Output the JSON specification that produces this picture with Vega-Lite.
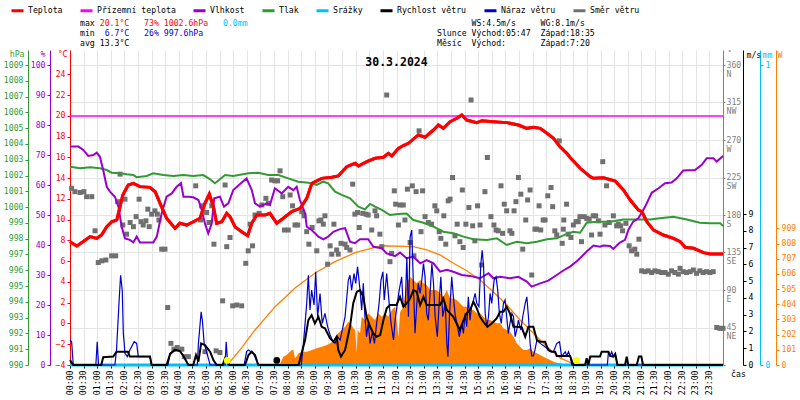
{
  "$schema": "https://vega.github.io/schema/vega-lite/v6.json",
  "width": 653,
  "height": 315,
  "autosize": "none",
  "padding": {"left": 70, "top": 50, "right": 77, "bottom": 35},
  "background": "white",
  "config": {
    "view": {"stroke": null},
    "font": "DejaVu Sans Mono",
    "axis": {
      "labelFont": "DejaVu Sans Mono", "labelFontSize": 8.2, "titleFont": "DejaVu Sans Mono",
      "titleFontSize": 8.2, "titleFontWeight": "normal", "tickSize": 3, "labelPadding": 2,
      "grid": false, "titleAngle": 0, "titleBaseline": "middle", "labelOverlap": false, "labelFlush": false
    },
    "legend": {
      "orient": "none", "legendX": -60, "legendY": -47, "direction": "horizontal",
      "symbolType": "stroke", "symbolSize": 144, "symbolStrokeWidth": 3,
      "labelFont": "DejaVu Sans Mono", "labelFontSize": 8.2, "labelOffset": 3,
      "columnPadding": 11, "padding": 0
    }
  },
  "datasets": {
    "temp": [
      {"h":0,"v":7.88},{"h":0.25,"v":7.47},{"h":0.49,"v":7.9},{"h":0.74,"v":8.37},{"h":0.98,"v":8.2},{"h":1.16,"v":8.53},
      {"h":1.35,"v":9.33},{"h":1.53,"v":9.81},{"h":1.72,"v":9.98},{"h":1.84,"v":11.26},{"h":1.94,"v":12.39},{"h":2.14,"v":13.35},
      {"h":2.33,"v":13.51},{"h":2.57,"v":13.19},{"h":2.94,"v":13.12},{"h":3.13,"v":12.7},{"h":3.31,"v":11.58},{"h":3.55,"v":10.14},
      {"h":3.86,"v":9.17},{"h":4.04,"v":9.66},{"h":4.29,"v":9.49},{"h":4.53,"v":9.81},{"h":4.78,"v":10.14},{"h":4.96,"v":11.58},
      {"h":5.12,"v":12.48},{"h":5.27,"v":11.26},{"h":5.39,"v":9.66},{"h":5.58,"v":9.81},{"h":5.76,"v":10.62},{"h":5.88,"v":10.3},
      {"h":6.07,"v":9.3},{"h":6.31,"v":8.85},{"h":6.53,"v":8.46},{"h":6.68,"v":9.66},{"h":6.86,"v":10.46},{"h":7.17,"v":10.46},
      {"h":7.35,"v":10.62},{"h":7.6,"v":9.66},{"h":7.84,"v":10.14},{"h":8.15,"v":10.78},{"h":8.46,"v":11.1},{"h":8.7,"v":12.06},
      {"h":8.89,"v":13.51},{"h":9.25,"v":13.99},{"h":9.62,"v":14.09},{"h":9.86,"v":14.22},{"h":10.17,"v":15.11},{"h":10.48,"v":15.44},
      {"h":10.6,"v":15.18},{"h":10.91,"v":15.6},{"h":11.21,"v":15.92},{"h":11.52,"v":16.02},{"h":11.7,"v":16.4},{"h":11.83,"v":16.14},
      {"h":12.07,"v":16.88},{"h":12.25,"v":17.15},{"h":12.44,"v":17.37},{"h":12.8,"v":18.17},{"h":13.05,"v":17.95},{"h":13.36,"v":18.65},
      {"h":13.54,"v":19.13},{"h":13.72,"v":18.81},{"h":13.97,"v":19.45},{"h":14.22,"v":19.78},{"h":14.4,"v":20.1},{"h":14.58,"v":19.61},
      {"h":14.95,"v":19.36},{"h":15.14,"v":19.55},{"h":15.56,"v":19.45},{"h":16.05,"v":19.36},{"h":16.48,"v":19.13},{"h":16.79,"v":18.81},
      {"h":17.03,"v":18.91},{"h":17.28,"v":18.81},{"h":17.53,"v":18.33},{"h":17.77,"v":17.85},{"h":18.01,"v":17.04},{"h":18.26,"v":16.4},
      {"h":18.38,"v":16.0},{"h":18.75,"v":14.96},{"h":19.12,"v":14.15},{"h":19.24,"v":13.99},{"h":19.61,"v":14.05},{"h":20.04,"v":13.73},
      {"h":20.34,"v":12.87},{"h":20.59,"v":11.9},{"h":20.89,"v":10.94},{"h":21.02,"v":10.78},{"h":21.2,"v":9.81},{"h":21.45,"v":9.0},
      {"h":21.81,"v":8.53},{"h":22.18,"v":8.2},{"h":22.43,"v":7.88},{"h":22.61,"v":7.34},{"h":22.92,"v":7.25},{"h":23.28,"v":6.83},
      {"h":23.53,"v":6.7},{"h":24,"v":6.7}
    ],
    "ground": [{"h":0,"v":20},{"h":24,"v":20}],
    "rain": [{"h":0,"v":0},{"h":24,"v":0}],
    "hum": [
      {"h":0,"v":72.8},{"h":0.31,"v":72.8},{"h":0.49,"v":71.7},{"h":0.67,"v":69.7},{"h":0.86,"v":70},{"h":0.98,"v":70.8},
      {"h":1.1,"v":69.4},{"h":1.22,"v":65},{"h":1.35,"v":59.4},{"h":1.47,"v":57.8},{"h":1.65,"v":56.1},{"h":1.78,"v":52.8},
      {"h":1.9,"v":46.1},{"h":2.02,"v":42.2},{"h":2.2,"v":41.7},{"h":2.33,"v":40.9},{"h":2.45,"v":42.8},{"h":2.57,"v":40.8},
      {"h":3.06,"v":40.8},{"h":3.19,"v":42.8},{"h":3.37,"v":50.6},{"h":3.55,"v":56.1},{"h":3.74,"v":57.2},{"h":3.92,"v":59.4},
      {"h":4.08,"v":60.6},{"h":4.17,"v":56.1},{"h":4.35,"v":56.1},{"h":4.53,"v":55.9},{"h":4.72,"v":55},{"h":4.84,"v":51.7},
      {"h":4.96,"v":47.2},{"h":5.08,"v":43.9},{"h":5.21,"v":47.2},{"h":5.3,"v":55.6},{"h":5.51,"v":56.1},{"h":5.66,"v":52.8},
      {"h":5.82,"v":53.9},{"h":6.0,"v":58.3},{"h":6.25,"v":60.3},{"h":6.49,"v":62.2},{"h":6.68,"v":58.3},{"h":6.8,"v":53.9},
      {"h":6.98,"v":52.8},{"h":7.23,"v":53.9},{"h":7.35,"v":53.3},{"h":7.53,"v":58.9},{"h":7.78,"v":57.2},{"h":8.02,"v":59.4},
      {"h":8.21,"v":58.3},{"h":8.33,"v":59.4},{"h":8.45,"v":55},{"h":8.64,"v":50.6},{"h":8.7,"v":46.1},{"h":8.88,"v":45},
      {"h":9.13,"v":42.8},{"h":9.31,"v":41.9},{"h":9.49,"v":42.8},{"h":9.68,"v":44.4},{"h":9.92,"v":45.3},{"h":10.11,"v":45.6},
      {"h":10.29,"v":41.1},{"h":10.47,"v":40.6},{"h":10.66,"v":41.9},{"h":10.96,"v":41.9},{"h":11.15,"v":39.4},{"h":11.46,"v":38.9},
      {"h":11.64,"v":37.2},{"h":11.95,"v":36.3},{"h":12.13,"v":37.5},{"h":12.37,"v":35.6},{"h":12.62,"v":36.1},{"h":12.87,"v":33.9},
      {"h":13.11,"v":35},{"h":13.36,"v":33.9},{"h":13.6,"v":31.1},{"h":13.85,"v":31.7},{"h":14.09,"v":31.1},{"h":14.4,"v":30},
      {"h":14.7,"v":29.7},{"h":15.07,"v":28.9},{"h":15.38,"v":30.6},{"h":15.56,"v":28.9},{"h":15.81,"v":29.4},{"h":16.17,"v":28.9},
      {"h":16.48,"v":29.4},{"h":16.79,"v":27.8},{"h":16.97,"v":26.1},{"h":17.28,"v":27.2},{"h":17.58,"v":28.1},{"h":17.89,"v":30},
      {"h":18.13,"v":31.5},{"h":18.38,"v":32.8},{"h":18.68,"v":35},{"h":18.99,"v":37.8},{"h":19.24,"v":39.8},{"h":19.48,"v":39.4},
      {"h":19.6,"v":39.8},{"h":19.85,"v":39.7},{"h":19.97,"v":38.7},{"h":20.21,"v":40.8},{"h":20.4,"v":41.7},{"h":20.52,"v":45},
      {"h":20.7,"v":47.8},{"h":20.89,"v":48.9},{"h":21.14,"v":52.8},{"h":21.38,"v":57.4},{"h":21.63,"v":58.9},{"h":21.87,"v":60.6},
      {"h":22.11,"v":60.8},{"h":22.3,"v":62.2},{"h":22.54,"v":64.8},{"h":22.97,"v":65},{"h":23.22,"v":66.7},{"h":23.4,"v":68.9},
      {"h":23.65,"v":68.9},{"h":23.77,"v":67.8},{"h":24,"v":69.7}
    ],
    "pres": [
      {"h":0,"v":1002.56},{"h":0.37,"v":1002.46},{"h":0.74,"v":1002.52},{"h":1.1,"v":1002.46},{"h":1.35,"v":1002.35},{"h":1.53,"v":1002.18},
      {"h":1.84,"v":1002.14},{"h":2.08,"v":1002.08},{"h":2.33,"v":1002.03},{"h":2.45,"v":1001.89},{"h":2.82,"v":1001.97},{"h":3.06,"v":1002.14},
      {"h":3.43,"v":1002.03},{"h":3.8,"v":1001.97},{"h":4.17,"v":1002.03},{"h":4.53,"v":1001.97},{"h":4.9,"v":1002.03},{"h":5.15,"v":1001.76},
      {"h":5.33,"v":1001.51},{"h":5.51,"v":1001.76},{"h":5.7,"v":1002.03},{"h":6.0,"v":1001.97},{"h":6.56,"v":1002.14},{"h":6.92,"v":1002.18},
      {"h":7.29,"v":1002.03},{"h":7.66,"v":1002.03},{"h":8.02,"v":1001.82},{"h":8.39,"v":1001.61},{"h":8.76,"v":1001.55},{"h":9.07,"v":1001.4},
      {"h":9.31,"v":1001.61},{"h":9.49,"v":1001.51},{"h":9.74,"v":1000.98},{"h":9.99,"v":1000.77},{"h":10.29,"v":1000.56},{"h":10.6,"v":1000.03},
      {"h":10.84,"v":999.86},{"h":11.03,"v":1000.2},{"h":11.21,"v":1000.03},{"h":11.46,"v":999.82},{"h":11.76,"v":999.5},{"h":12.07,"v":999.56},
      {"h":12.37,"v":999.6},{"h":12.62,"v":999.18},{"h":12.99,"v":999.01},{"h":13.36,"v":998.76},{"h":13.72,"v":998.44},{"h":14.09,"v":998.34},
      {"h":14.46,"v":998.13},{"h":14.83,"v":997.96},{"h":15.32,"v":997.92},{"h":15.69,"v":998.02},{"h":16.05,"v":997.6},{"h":16.42,"v":997.81},
      {"h":16.79,"v":997.71},{"h":17.16,"v":997.81},{"h":17.53,"v":997.96},{"h":17.89,"v":998.02},{"h":18.26,"v":998.3},{"h":18.5,"v":998.44},
      {"h":18.75,"v":998.38},{"h":18.99,"v":999.01},{"h":19.36,"v":999.07},{"h":19.85,"v":999.07},{"h":20.34,"v":999.22},{"h":20.83,"v":999.22},
      {"h":21.32,"v":999.22},{"h":21.68,"v":999.29},{"h":22.18,"v":999.39},{"h":22.67,"v":999.22},{"h":23.15,"v":999.01},{"h":23.53,"v":998.97},
      {"h":23.9,"v":998.97},{"h":24,"v":998.8}
    ],
    "wind": [
      {"h":0,"v":0.3},{"h":0.12,"v":0},{"h":1.15,"v":0},{"h":1.22,"v":0.46},{"h":1.59,"v":0.5},{"h":1.71,"v":0.79},{"h":2.13,"v":0.79},
      {"h":2.2,"v":0.5},{"h":2.94,"v":0.5},{"h":3.0,"v":0},{"h":3.55,"v":0},{"h":3.68,"v":0.66},{"h":3.86,"v":0.9},{"h":4.04,"v":0.83},
      {"h":4.17,"v":0.54},{"h":4.35,"v":0},{"h":4.53,"v":0},{"h":4.63,"v":0.6},{"h":4.72,"v":0.2},{"h":4.82,"v":1.29},{"h":4.96,"v":1.19},
      {"h":5.15,"v":0.79},{"h":5.27,"v":0.3},{"h":5.39,"v":0},{"h":5.61,"v":0},{"h":5.7,"v":0.4},{"h":5.86,"v":0},{"h":6.43,"v":0},
      {"h":6.56,"v":0.6},{"h":6.68,"v":0.79},{"h":6.8,"v":0.6},{"h":6.92,"v":0},{"h":8.4,"v":0},{"h":8.64,"v":1.49},{"h":8.76,"v":2.68},
      {"h":8.88,"v":2.98},{"h":9.0,"v":2.48},{"h":9.13,"v":2.88},{"h":9.25,"v":2.28},{"h":9.37,"v":2.19},{"h":9.56,"v":1.59},{"h":9.68,"v":1.39},
      {"h":9.8,"v":1.69},{"h":9.86,"v":0.9},{"h":9.96,"v":0.5},{"h":10.11,"v":0.9},{"h":10.29,"v":2.28},{"h":10.41,"v":3.68},{"h":10.54,"v":4.37},
      {"h":10.66,"v":4.47},{"h":10.78,"v":4.07},{"h":10.9,"v":2.88},{"h":11.03,"v":2.28},{"h":11.15,"v":1.89},{"h":11.27,"v":1.69},{"h":11.4,"v":1.79},
      {"h":11.52,"v":2.68},{"h":11.64,"v":3.38},{"h":11.76,"v":3.58},{"h":12.0,"v":3.58},{"h":12.13,"v":4.07},{"h":12.25,"v":3.48},{"h":12.37,"v":3.68},
      {"h":12.5,"v":3.97},{"h":12.62,"v":4.47},{"h":12.74,"v":4.37},{"h":12.87,"v":3.58},{"h":12.99,"v":4.07},{"h":13.11,"v":3.58},{"h":13.6,"v":3.58},
      {"h":13.72,"v":3.97},{"h":13.85,"v":3.28},{"h":13.97,"v":3.08},{"h":14.09,"v":2.88},{"h":14.21,"v":2.48},{"h":14.33,"v":2.09},{"h":14.46,"v":2.68},
      {"h":14.58,"v":3.08},{"h":14.7,"v":3.28},{"h":14.83,"v":3.77},{"h":14.95,"v":3.38},{"h":15.07,"v":2.88},{"h":15.19,"v":2.58},{"h":15.34,"v":2.28},
      {"h":15.5,"v":2.48},{"h":15.68,"v":2.78},{"h":15.81,"v":3.18},{"h":15.93,"v":3.18},{"h":16.05,"v":3.48},{"h":16.17,"v":3.08},{"h":16.3,"v":2.28},
      {"h":16.42,"v":2.28},{"h":16.6,"v":2.25},{"h":16.73,"v":1.69},{"h":16.85,"v":2.28},{"h":17.03,"v":2.28},{"h":17.16,"v":1.49},{"h":17.28,"v":1.39},
      {"h":17.46,"v":1.39},{"h":17.58,"v":0.9},{"h":17.71,"v":0.79},{"h":17.83,"v":0.79},{"h":17.89,"v":0.54},{"h":18.38,"v":0.54},{"h":18.5,"v":0},
      {"h":18.93,"v":0},{"h":18.99,"v":0.4},{"h":19.05,"v":0},{"h":19.12,"v":0.5},{"h":19.48,"v":0.5},{"h":19.54,"v":0.79},{"h":19.79,"v":0.79},
      {"h":19.85,"v":0.54},{"h":19.97,"v":0.5},{"h":20.04,"v":0.66},{"h":20.12,"v":0},{"h":20.4,"v":0},{"h":20.46,"v":0.5},{"h":20.52,"v":0},
      {"h":20.83,"v":0},{"h":20.91,"v":0.5},{"h":21.0,"v":0.5},{"h":21.06,"v":0},{"h":24,"v":0}
    ],
    "gust": [
      {"h":0,"v":1.5},{"h":0.06,"v":1.39},{"h":0.12,"v":0},{"h":0.95,"v":0},{"h":1.0,"v":1.39},{"h":1.05,"v":0},{"h":1.65,"v":0},
      {"h":1.71,"v":0.9},{"h":1.8,"v":3.68},{"h":1.86,"v":5.36},{"h":1.92,"v":4.47},{"h":1.96,"v":1.89},{"h":2.02,"v":0.7},{"h":2.11,"v":0.5},
      {"h":2.2,"v":0.9},{"h":2.36,"v":1.39},{"h":2.45,"v":1.29},{"h":2.51,"v":0.5},{"h":2.94,"v":0.5},{"h":3.0,"v":0},{"h":3.6,"v":0},
      {"h":3.68,"v":0.7},{"h":3.86,"v":0.9},{"h":4.04,"v":0.83},{"h":4.17,"v":0.54},{"h":4.35,"v":0},{"h":4.68,"v":0},{"h":4.72,"v":1.29},
      {"h":4.82,"v":3.18},{"h":4.87,"v":2.58},{"h":4.93,"v":1.29},{"h":5.02,"v":0.79},{"h":5.15,"v":0},{"h":5.7,"v":0},{"h":5.74,"v":1.39},
      {"h":5.8,"v":0},{"h":6.4,"v":0},{"h":6.49,"v":0.8},{"h":6.56,"v":0.9},{"h":6.74,"v":0.7},{"h":6.92,"v":0},{"h":8.5,"v":0},
      {"h":8.58,"v":1.29},{"h":8.7,"v":3.68},{"h":8.76,"v":5.36},{"h":8.82,"v":3.28},{"h":8.88,"v":4.47},{"h":8.97,"v":3.58},{"h":9.03,"v":5.56},
      {"h":9.1,"v":2.88},{"h":9.19,"v":4.27},{"h":9.27,"v":2.48},{"h":9.37,"v":3.08},{"h":9.47,"v":2.28},{"h":9.56,"v":1.79},{"h":9.64,"v":1.49},
      {"h":9.74,"v":1.29},{"h":9.83,"v":1.69},{"h":9.93,"v":1.49},{"h":10.11,"v":2.88},{"h":10.23,"v":5.07},{"h":10.29,"v":5.36},{"h":10.35,"v":4.47},
      {"h":10.44,"v":5.46},{"h":10.5,"v":4.87},{"h":10.57,"v":5.86},{"h":10.66,"v":4.47},{"h":10.72,"v":3.28},{"h":10.78,"v":4.87},{"h":10.84,"v":2.88},
      {"h":10.9,"v":1.69},{"h":10.96,"v":2.48},{"h":11.03,"v":1.29},{"h":11.11,"v":1.99},{"h":11.19,"v":1.29},{"h":11.27,"v":2.48},{"h":11.36,"v":3.68},
      {"h":11.43,"v":5.07},{"h":11.5,"v":5.56},{"h":11.55,"v":3.88},{"h":11.64,"v":5.46},{"h":11.73,"v":3.68},{"h":11.8,"v":2.48},{"h":11.89,"v":1.49},
      {"h":11.95,"v":2.68},{"h":12.03,"v":3.68},{"h":12.1,"v":4.47},{"h":12.19,"v":5.26},{"h":12.24,"v":3.68},{"h":12.32,"v":3.48},{"h":12.38,"v":6.45},
      {"h":12.44,"v":2.88},{"h":12.5,"v":7.65},{"h":12.56,"v":8.05},{"h":12.62,"v":4.87},{"h":12.68,"v":1.89},{"h":12.74,"v":3.48},{"h":12.8,"v":4.87},
      {"h":12.87,"v":4.27},{"h":12.93,"v":5.07},{"h":12.99,"v":6.06},{"h":13.05,"v":5.26},{"h":13.11,"v":3.08},{"h":13.17,"v":2.68},{"h":13.24,"v":4.47},
      {"h":13.3,"v":6.06},{"h":13.36,"v":4.87},{"h":13.42,"v":2.88},{"h":13.5,"v":1.69},{"h":13.58,"v":4.07},{"h":13.63,"v":5.26},{"h":13.7,"v":2.88},
      {"h":13.79,"v":3.68},{"h":13.85,"v":1.29},{"h":13.89,"v":0.5},{"h":13.95,"v":3.08},{"h":14.03,"v":5.26},{"h":14.09,"v":4.07},{"h":14.15,"v":3.08},
      {"h":14.24,"v":2.28},{"h":14.31,"v":1.69},{"h":14.4,"v":2.48},{"h":14.46,"v":1.89},{"h":14.52,"v":3.08},{"h":14.58,"v":2.28},{"h":14.64,"v":4.07},
      {"h":14.7,"v":2.68},{"h":14.76,"v":3.48},{"h":14.83,"v":3.88},{"h":14.89,"v":4.27},{"h":14.95,"v":3.68},{"h":15.03,"v":3.48},{"h":15.1,"v":6.06},
      {"h":15.15,"v":6.85},{"h":15.2,"v":5.86},{"h":15.26,"v":3.08},{"h":15.32,"v":2.28},{"h":15.38,"v":2.88},{"h":15.44,"v":4.27},{"h":15.5,"v":3.68},
      {"h":15.59,"v":5.07},{"h":15.66,"v":5.26},{"h":15.72,"v":4.47},{"h":15.78,"v":3.08},{"h":15.85,"v":2.48},{"h":15.93,"v":3.68},{"h":15.99,"v":3.88},
      {"h":16.05,"v":2.88},{"h":16.11,"v":1.89},{"h":16.17,"v":2.48},{"h":16.24,"v":3.08},{"h":16.3,"v":2.88},{"h":16.36,"v":1.69},{"h":16.42,"v":2.09},
      {"h":16.48,"v":2.68},{"h":16.57,"v":2.09},{"h":16.64,"v":2.88},{"h":16.73,"v":3.68},{"h":16.79,"v":4.07},{"h":16.85,"v":2.88},{"h":16.91,"v":1.29},
      {"h":16.97,"v":0.54},{"h":17.03,"v":0.54},{"h":17.09,"v":0.9},{"h":17.16,"v":1.49},{"h":17.28,"v":1.29},{"h":17.46,"v":1.09},{"h":17.65,"v":0.79},
      {"h":17.77,"v":0.79},{"h":17.89,"v":1.29},{"h":17.99,"v":1.39},{"h":18.07,"v":0.5},{"h":18.2,"v":0.79},{"h":18.26,"v":0.54},{"h":18.32,"v":0.79},
      {"h":18.38,"v":0.54},{"h":18.44,"v":0},{"h":19.75,"v":0},{"h":19.79,"v":0.79},{"h":19.85,"v":0.54},{"h":19.91,"v":0.79},{"h":19.97,"v":0.5},
      {"h":20.04,"v":0.66},{"h":20.12,"v":0},{"h":24,"v":0}
    ],
    "solar": [
      {"h":0,"v":0},{"h":7.7,"v":0},{"h":7.84,"v":55},{"h":7.96,"v":66},{"h":8.09,"v":88},{"h":8.15,"v":100},{"h":8.21,"v":100},{"h":8.27,"v":44},
      {"h":8.4,"v":78},{"h":8.52,"v":88},{"h":8.7,"v":88},{"h":8.89,"v":100},{"h":9.07,"v":111},{"h":9.25,"v":122},{"h":9.44,"v":133},{"h":9.56,"v":144},
      {"h":9.74,"v":166},{"h":9.86,"v":211},{"h":9.99,"v":233},{"h":10.11,"v":255},{"h":10.23,"v":288},{"h":10.29,"v":277},{"h":10.35,"v":266},
      {"h":10.41,"v":244},{"h":10.48,"v":233},{"h":10.54,"v":78},{"h":10.57,"v":233},{"h":10.66,"v":211},{"h":10.72,"v":321},{"h":10.84,"v":299},
      {"h":10.96,"v":344},{"h":11.09,"v":321},{"h":11.21,"v":299},{"h":11.33,"v":344},{"h":11.46,"v":321},{"h":11.58,"v":344},{"h":11.7,"v":321},
      {"h":11.83,"v":366},{"h":11.95,"v":388},{"h":12.07,"v":188},{"h":12.13,"v":350},{"h":12.25,"v":388},{"h":12.38,"v":543},{"h":12.5,"v":587},
      {"h":12.62,"v":565},{"h":12.74,"v":543},{"h":12.87,"v":565},{"h":12.99,"v":543},{"h":13.11,"v":532},{"h":13.24,"v":499},{"h":13.48,"v":499},
      {"h":13.6,"v":477},{"h":13.72,"v":454},{"h":13.85,"v":499},{"h":13.97,"v":443},{"h":14.09,"v":443},{"h":14.21,"v":432},{"h":14.33,"v":410},
      {"h":14.46,"v":388},{"h":14.58,"v":388},{"h":14.7,"v":366},{"h":14.83,"v":366},{"h":14.95,"v":344},{"h":15.07,"v":344},{"h":15.19,"v":321},
      {"h":15.32,"v":299},{"h":15.44,"v":299},{"h":15.56,"v":288},{"h":15.69,"v":277},{"h":15.81,"v":277},{"h":15.93,"v":244},{"h":16.05,"v":233},
      {"h":16.17,"v":222},{"h":16.3,"v":188},{"h":16.42,"v":144},{"h":16.54,"v":122},{"h":16.66,"v":100},{"h":16.79,"v":100},{"h":16.91,"v":111},
      {"h":17.03,"v":88},{"h":17.16,"v":78},{"h":17.28,"v":66},{"h":17.4,"v":55},{"h":17.53,"v":44},{"h":17.65,"v":33},{"h":17.77,"v":22},
      {"h":17.89,"v":15},{"h":18.01,"v":11},{"h":18.26,"v":0},{"h":24,"v":0}
    ],
    "sun": [
      {"h":5.78,"v":0},{"h":6.25,"v":100},{"h":6.8,"v":233},{"h":7.54,"v":388},{"h":8.27,"v":512},{"h":9.01,"v":612},{"h":9.74,"v":687},
      {"h":10.48,"v":747},{"h":11.21,"v":783},{"h":11.46,"v":793},{"h":12.61,"v":787},{"h":13.11,"v":765},{"h":13.6,"v":732},{"h":14.08,"v":678},
      {"h":14.58,"v":627},{"h":15.07,"v":565},{"h":15.55,"v":487},{"h":16.06,"v":399},{"h":16.54,"v":299},{"h":17.02,"v":213},{"h":17.53,"v":122},
      {"h":18.01,"v":47},{"h":18.6,"v":0}
    ],
    "dir": [
      {"h":0.06,"v":212},{"h":0.18,"v":208},{"h":0.37,"v":207},{"h":0.51,"v":208},{"h":0.61,"v":202},{"h":0.8,"v":202},{"h":0.92,"v":161},
      {"h":1.04,"v":123},{"h":1.17,"v":125},{"h":1.32,"v":126},{"h":1.53,"v":131},{"h":1.68,"v":131},{"h":1.75,"v":196},{"h":1.84,"v":229},
      {"h":1.94,"v":168},{"h":2.02,"v":199},{"h":2.08,"v":157},{"h":2.21,"v":171},{"h":2.33,"v":166},{"h":2.43,"v":178},{"h":2.54,"v":199},
      {"h":2.61,"v":172},{"h":2.69,"v":168},{"h":2.79,"v":173},{"h":2.86,"v":187},{"h":2.91,"v":166},{"h":3.0,"v":181},{"h":3.12,"v":185},
      {"h":3.21,"v":181},{"h":3.27,"v":174},{"h":3.37,"v":139},{"h":3.49,"v":139},{"h":3.59,"v":69},{"h":3.71,"v":26},{"h":3.82,"v":19},
      {"h":3.94,"v":21},{"h":4.11,"v":19},{"h":4.2,"v":10},{"h":4.35,"v":10},{"h":4.62,"v":215},{"h":4.8,"v":174},{"h":4.84,"v":191},
      {"h":4.96,"v":16},{"h":5.02,"v":183},{"h":5.11,"v":171},{"h":5.21,"v":191},{"h":5.29,"v":145},{"h":5.37,"v":17},{"h":5.51,"v":15},
      {"h":5.61,"v":77},{"h":5.7,"v":216},{"h":5.76,"v":142},{"h":5.88,"v":153},{"h":5.98,"v":71},{"h":6.13,"v":72},{"h":6.31,"v":71},
      {"h":6.46,"v":122},{"h":6.55,"v":137},{"h":6.62,"v":169},{"h":6.71,"v":143},{"h":6.8,"v":180},{"h":6.95,"v":182},{"h":7.05,"v":192},
      {"h":7.2,"v":200},{"h":7.29,"v":194},{"h":7.41,"v":222},{"h":7.53,"v":221},{"h":7.63,"v":221},{"h":7.72,"v":233},{"h":7.82,"v":202},
      {"h":7.88,"v":162},{"h":8.02,"v":162},{"h":8.09,"v":204},{"h":8.18,"v":191},{"h":8.27,"v":168},{"h":8.37,"v":168},{"h":8.52,"v":184},
      {"h":8.6,"v":179},{"h":8.7,"v":160},{"h":8.78,"v":145},{"h":8.9,"v":165},{"h":9.07,"v":137},{"h":9.15,"v":173},{"h":9.22,"v":174},
      {"h":9.31,"v":169},{"h":9.37,"v":179},{"h":9.47,"v":121},{"h":9.56,"v":143},{"h":9.62,"v":133},{"h":9.7,"v":169},{"h":9.8,"v":138},
      {"h":9.86,"v":133},{"h":9.96,"v":146},{"h":10.11,"v":145},{"h":10.17,"v":141},{"h":10.29,"v":138},{"h":10.39,"v":217},{"h":10.47,"v":181},
      {"h":10.57,"v":183},{"h":10.63,"v":165},{"h":10.76,"v":182},{"h":10.88,"v":181},{"h":10.96,"v":180},{"h":11.09,"v":162},{"h":11.21,"v":185},
      {"h":11.27,"v":179},{"h":11.39,"v":157},{"h":11.46,"v":142},{"h":11.64,"v":324},{"h":11.76,"v":124},{"h":11.82,"v":134},{"h":11.92,"v":209},
      {"h":11.97,"v":193},{"h":12.07,"v":168},{"h":12.13,"v":192},{"h":12.25,"v":192},{"h":12.31,"v":174},{"h":12.4,"v":211},{"h":12.5,"v":147},
      {"h":12.58,"v":215},{"h":12.64,"v":131},{"h":12.72,"v":208},{"h":12.83,"v":281},{"h":12.9,"v":160},{"h":12.96,"v":209},{"h":13.05,"v":178},
      {"h":13.17,"v":171},{"h":13.29,"v":169},{"h":13.41,"v":191},{"h":13.48,"v":185},{"h":13.57,"v":160},{"h":13.63,"v":152},{"h":13.74,"v":179},
      {"h":13.81,"v":145},{"h":13.9,"v":197},{"h":13.97,"v":199},{"h":14.06,"v":225},{"h":14.15,"v":155},{"h":14.23,"v":169},{"h":14.33,"v":148},
      {"h":14.42,"v":210},{"h":14.45,"v":141},{"h":14.55,"v":169},{"h":14.66,"v":189},{"h":14.74,"v":318},{"h":14.8,"v":167},{"h":14.88,"v":149},
      {"h":14.98,"v":191},{"h":15.07,"v":168},{"h":15.13,"v":120},{"h":15.25,"v":208},{"h":15.34,"v":249},{"h":15.47,"v":178},{"h":15.58,"v":168},
      {"h":15.66,"v":162},{"h":15.74,"v":161},{"h":15.84,"v":215},{"h":15.9,"v":158},{"h":15.96,"v":193},{"h":16.05,"v":185},{"h":16.17,"v":161},
      {"h":16.24,"v":158},{"h":16.32,"v":185},{"h":16.39,"v":196},{"h":16.48,"v":225},{"h":16.57,"v":205},{"h":16.64,"v":139},{"h":16.75,"v":174},
      {"h":16.82,"v":198},{"h":16.91,"v":210},{"h":16.97,"v":108},{"h":17.09,"v":163},{"h":17.15,"v":163},{"h":17.24,"v":191},{"h":17.3,"v":162},
      {"h":17.39,"v":174},{"h":17.46,"v":174},{"h":17.56,"v":203},{"h":17.68,"v":213},{"h":17.74,"v":190},{"h":17.82,"v":161},{"h":17.89,"v":156},
      {"h":17.98,"v":269},{"h":18.09,"v":146},{"h":18.13,"v":163},{"h":18.15,"v":174},{"h":18.25,"v":193},{"h":18.31,"v":157},{"h":18.41,"v":153},
      {"h":18.5,"v":168},{"h":18.6,"v":172},{"h":18.68,"v":172},{"h":18.74,"v":178},{"h":18.8,"v":148},{"h":18.9,"v":178},{"h":18.99,"v":176},
      {"h":19.08,"v":175},{"h":19.17,"v":156},{"h":19.23,"v":179},{"h":19.32,"v":179},{"h":19.42,"v":173},{"h":19.48,"v":157},{"h":19.58,"v":244},
      {"h":19.66,"v":168},{"h":19.72,"v":215},{"h":19.82,"v":171},{"h":19.97,"v":179},{"h":20.09,"v":167},{"h":20.15,"v":169},{"h":20.24,"v":167},
      {"h":20.31,"v":161},{"h":20.43,"v":170},{"h":20.55,"v":143},{"h":20.64,"v":137},{"h":20.76,"v":139},{"h":20.83,"v":133},{"h":20.91,"v":151},
      {"h":21.01,"v":113},{"h":21.13,"v":112},{"h":21.25,"v":113},{"h":21.38,"v":111},{"h":21.5,"v":113},{"h":21.62,"v":112},{"h":21.75,"v":111},
      {"h":21.87,"v":111},{"h":21.99,"v":109},{"h":22.11,"v":113},{"h":22.23,"v":111},{"h":22.36,"v":109},{"h":22.42,"v":116},{"h":22.54,"v":112},
      {"h":22.66,"v":111},{"h":22.79,"v":112},{"h":22.91,"v":114},{"h":23.03,"v":110},{"h":23.15,"v":113},{"h":23.27,"v":111},{"h":23.4,"v":112},
      {"h":23.52,"v":111},{"h":23.64,"v":112},{"h":23.77,"v":45},{"h":23.89,"v":44},{"h":24.0,"v":44}
    ],
    "events": [{"h":5.78,"kind":"sun"},{"h":7.6,"kind":"moon"},{"h":18.62,"kind":"sun"}],
    "heading": [{"h":12,"v":25.1,"text":"30.3.2024"}],
    "info": [
      {"block":"stats","line":"1","tone":"label","text":"max"},
      {"block":"stats","line":"1","tone":"max","text":"\u200b\u00a0\u00a0\u00a0\u00a020.1°C\u00a0\u00a0\u00a073%\u00a01002.6hPa"},
      {"block":"stats","line":"1","tone":"rain","text":"\u200b\u00a0\u00a0\u00a0\u00a0\u00a0\u00a0\u00a0\u00a0\u00a0\u00a0\u00a0\u00a0\u00a0\u00a0\u00a0\u00a0\u00a0\u00a0\u00a0\u00a0\u00a0\u00a0\u00a0\u00a0\u00a0\u00a0\u00a0\u00a0\u00a00.0mm"},
      {"block":"stats","line":"2","tone":"label","text":"min"},
      {"block":"stats","line":"2","tone":"min","text":"\u200b\u00a0\u00a0\u00a0\u00a0\u00a06.7°C\u00a0\u00a0\u00a026%\u00a0997.6hPa"},
      {"block":"stats","line":"3","tone":"label","text":"avg\u00a013.3°C"},
      {"block":"astro","line":"1","tone":"label","text":"\u200b\u00a0\u00a0\u00a0\u00a0\u00a0\u00a0\u00a0WS:4.5m/s\u00a0\u00a0\u00a0\u00a0\u00a0WG:8.1m/s"},
      {"block":"astro","line":"2","tone":"label","text":"Slunce\u00a0Východ:05:47\u00a0\u00a0Západ:18:35"},
      {"block":"astro","line":"3","tone":"label","text":"Měsíc\u00a0\u00a0Východ:\u00a0\u00a0\u00a0\u00a0\u00a0\u00a0\u00a0Západ:7:20"}
    ]
  },
  "resolve": {
    "scale": {"x": "independent", "y": "independent"},
    "axis": {"x": "independent", "y": "independent"}
  },
  "layer": [
    {
      "data": {"name": "temp"},
      "mark": {"type": "line", "strokeWidth": 3},
      "encoding": {
        "x": {
          "field": "h", "type": "quantitative",
          "scale": {"domain": [0, 24], "nice": false, "zero": false},
          "axis": {
            "values": [0,0.5,1,1.5,2,2.5,3,3.5,4,4.5,5,5.5,6,6.5,7,7.5,8,8.5,9,9.5,10,10.5,11,11.5,12,12.5,13,13.5,14,14.5,15,15.5,16,16.5,17,17.5,18,18.5,19,19.5,20,20.5,21,21.5,22,22.5,23,23.5],
            "labelExpr": "(datum.value < 10 ? '0' : '') + floor(datum.value) + ':' + (datum.value % 1 > 0 ? '30' : '00')",
            "labelAngle": 270, "grid": true, "gridColor": "#e4e4e4", "domain": false, "tickColor": "#000000",
            "labelColor": "#000000", "title": "čas", "titleX": 668, "titleY": 9, "titleAlign": "center", "titleColor": "#000000"
          }
        },
        "y": {
          "field": "v", "type": "quantitative",
          "scale": {"domain": [-4, 26.36], "nice": false, "zero": false},
          "axis": {
            "orient": "left", "offset": 0, "values": [-4,-2,0,2,4,6,8,10,12,14,16,18,20,22,24], "format": "d",
            "domainColor": "#ff0000", "tickColor": "#ff0000", "labelColor": "#ff0000",
            "title": "°C", "titleColor": "#ff0000", "titleX": -3, "titleY": 4, "titleAlign": "right"
          }
        },
        "color": {
          "datum": "Teplota",
          "scale": {
            "domain": ["Teplota","Přízemní teplota","Vlhkost","Tlak","Srážky","Rychlost větru","Náraz větru","Směr větru"],
            "range": ["#ff0000","#ff00ff","#9900cc","#339933","#00bfff","#000000","#0000cc","#707070"]
          },
          "legend": {"title": null}
        }
      }
    },
    {
      "data": {"name": "solar"},
      "mark": {"type": "area", "color": "#ff8000", "opacity": 1},
      "encoding": {
        "x": {"field": "h", "type": "quantitative", "scale": {"domain": [0, 24], "nice": false, "zero": false}, "axis": null},
        "y": {
          "field": "v", "type": "quantitative", "scale": {"domain": [0, 2095], "nice": false},
          "axis": {
            "orient": "right", "offset": 53, "values": [0,101,202,303,404,505,606,707,808,909], "format": "d",
            "domainColor": "#ff8000", "tickColor": "#ff8000", "labelColor": "#ff8000",
            "title": "W", "titleColor": "#ff8000", "titleX": 1, "titleY": 5, "titleAlign": "left"
          }
        }
      }
    },
    {
      "data": {"name": "sun"},
      "mark": {"type": "line", "color": "#ff8000", "strokeWidth": 1.3},
      "encoding": {
        "x": {"field": "h", "type": "quantitative", "scale": {"domain": [0, 24], "nice": false, "zero": false}, "axis": null},
        "y": {"field": "v", "type": "quantitative", "scale": {"domain": [0, 2095], "nice": false}, "axis": null}
      }
    },
    {
      "data": {"name": "ground"},
      "mark": {"type": "line", "strokeWidth": 1.5},
      "encoding": {
        "x": {"field": "h", "type": "quantitative", "scale": {"domain": [0, 24], "nice": false, "zero": false}, "axis": null},
        "y": {"field": "v", "type": "quantitative", "scale": {"domain": [-4, 26.36], "nice": false, "zero": false}, "axis": null},
        "color": {"datum": "Přízemní teplota", "legend": {"title": null}}
      }
    },
    {
      "mark": {"type": "rule", "color": "#808080", "strokeWidth": 1},
      "encoding": {
        "y": {"datum": 0, "type": "quantitative", "scale": {"domain": [-4, 26.36], "nice": false, "zero": false}, "axis": null}
      }
    },
    {
      "data": {"name": "dir"},
      "mark": {"type": "point", "shape": "square", "filled": true, "size": 25, "opacity": 1},
      "encoding": {
        "x": {"field": "h", "type": "quantitative", "scale": {"domain": [0, 24], "nice": false, "zero": false}, "axis": null},
        "y": {
          "field": "v", "type": "quantitative", "scale": {"domain": [0, 378], "nice": false},
          "axis": {
            "orient": "right", "offset": 0, "values": [0,45,90,135,180,225,270,315,360],
            "grid": true, "gridColor": "#e4e4e4",
            "labelExpr": "datum.value == 0 ? '' : [datum.label, ['','NE','E','SE','S','SW','W','NW','N'][round(datum.value / 45)]]",
            "labelBaseline": "top", "labelOffset": -4, "labelLineHeight": 9, "tickSize": 2, "labelPadding": 1,
            "domainColor": "#808080", "tickColor": "#808080", "labelColor": "#808080",
            "title": "°", "titleColor": "#808080", "titleFontSize": 7, "titleX": 4, "titleY": 2, "titleAlign": "left"
          }
        },
        "color": {"datum": "Směr větru", "legend": {"title": null}}
      }
    },
    {
      "data": {"name": "pres"},
      "mark": {"type": "line", "strokeWidth": 2},
      "encoding": {
        "x": {"field": "h", "type": "quantitative", "scale": {"domain": [0, 24], "nice": false, "zero": false}, "axis": null},
        "y": {
          "field": "v", "type": "quantitative", "scale": {"domain": [990, 1009.95], "nice": false, "zero": false},
          "axis": {
            "orient": "left", "offset": 42, "format": "d",
            "values": [990,991,992,993,994,995,996,997,998,999,1000,1001,1002,1003,1004,1005,1006,1007,1008,1009],
            "domainColor": "#339933", "tickColor": "#339933", "labelColor": "#339933",
            "title": "hPa", "titleColor": "#339933", "titleX": -4, "titleY": 4, "titleAlign": "right"
          }
        },
        "color": {"datum": "Tlak", "legend": {"title": null}}
      }
    },
    {
      "data": {"name": "hum"},
      "mark": {"type": "line", "strokeWidth": 2},
      "encoding": {
        "x": {"field": "h", "type": "quantitative", "scale": {"domain": [0, 24], "nice": false, "zero": false}, "axis": null},
        "y": {
          "field": "v", "type": "quantitative", "scale": {"domain": [0, 105], "nice": false},
          "axis": {
            "orient": "left", "offset": 20, "values": [0,10,20,30,40,50,60,70,80,90,100], "format": "d",
            "domainColor": "#9900cc", "tickColor": "#9900cc", "labelColor": "#9900cc",
            "title": "%", "titleColor": "#9900cc", "titleX": -5, "titleY": 4, "titleAlign": "right"
          }
        },
        "color": {"datum": "Vlhkost", "legend": {"title": null}}
      }
    },
    {
      "data": {"name": "temp"},
      "mark": {"type": "line", "strokeWidth": 3},
      "encoding": {
        "x": {"field": "h", "type": "quantitative", "scale": {"domain": [0, 24], "nice": false, "zero": false}, "axis": null},
        "y": {"field": "v", "type": "quantitative", "scale": {"domain": [-4, 26.36], "nice": false, "zero": false}, "axis": null},
        "color": {"datum": "Teplota", "legend": {"title": null}}
      }
    },
    {
      "data": {"name": "rain"},
      "mark": {"type": "line", "strokeWidth": 3},
      "encoding": {
        "x": {"field": "h", "type": "quantitative", "scale": {"domain": [0, 24], "nice": false, "zero": false}, "axis": null},
        "y": {
          "field": "v", "type": "quantitative", "scale": {"domain": [0, 1.05], "nice": false},
          "axis": {
            "orient": "right", "offset": 37, "values": [0, 1], "format": "d",
            "domainColor": "#00bfff", "tickColor": "#00bfff", "labelColor": "#00bfff",
            "title": "mm", "titleColor": "#00bfff", "titleX": 2, "titleY": 5, "titleAlign": "left"
          }
        },
        "color": {"datum": "Srážky", "legend": {"title": null}}
      }
    },
    {
      "data": {"name": "gust"},
      "mark": {"type": "line", "strokeWidth": 1.2},
      "encoding": {
        "x": {"field": "h", "type": "quantitative", "scale": {"domain": [0, 24], "nice": false, "zero": false}, "axis": null},
        "y": {"field": "v", "type": "quantitative", "scale": {"domain": [0, 18.8], "nice": false}, "axis": null},
        "color": {"datum": "Náraz větru", "legend": {"title": null}}
      }
    },
    {
      "data": {"name": "wind"},
      "mark": {"type": "line", "strokeWidth": 2},
      "encoding": {
        "x": {"field": "h", "type": "quantitative", "scale": {"domain": [0, 24], "nice": false, "zero": false}, "axis": null},
        "y": {
          "field": "v", "type": "quantitative", "scale": {"domain": [0, 18.8], "nice": false},
          "axis": {
            "orient": "right", "offset": 20, "values": [0,1,2,3,4,5,6,7,8,9], "format": "d",
            "domainColor": "#000000", "tickColor": "#000000", "labelColor": "#000000",
            "title": "m/s", "titleColor": "#000000", "titleX": 3, "titleY": 5, "titleAlign": "left"
          }
        },
        "color": {"datum": "Rychlost větru", "legend": {"title": null}}
      }
    },
    {
      "data": {"name": "events"},
      "mark": {"type": "point", "shape": "circle", "filled": true, "size": 45, "opacity": 1, "strokeWidth": 0},
      "encoding": {
        "x": {"field": "h", "type": "quantitative", "scale": {"domain": [0, 24], "nice": false, "zero": false}, "axis": null},
        "y": {"datum": 0.27, "type": "quantitative", "scale": {"domain": [0, 18.8], "nice": false}, "axis": null},
        "fill": {
          "field": "kind", "type": "nominal",
          "scale": {"domain": ["label","max","min","rain","sun","moon"], "range": ["#000000","#ff0000","#0000dd","#00bfff","#ffff00","#000000"]},
          "legend": null
        }
      }
    },
    {
      "data": {"name": "heading"},
      "mark": {"type": "text", "align": "center", "baseline": "middle", "font": "DejaVu Sans Mono", "fontSize": 11.5, "fontWeight": "bold", "color": "#000000"},
      "encoding": {
        "x": {"field": "h", "type": "quantitative", "scale": {"domain": [0, 24], "nice": false, "zero": false}, "axis": null},
        "y": {"field": "v", "type": "quantitative", "scale": {"domain": [-4, 26.36], "nice": false, "zero": false}, "axis": null},
        "text": {"field": "text"}
      }
    },
    {
      "data": {"name": "info"},
      "mark": {"type": "text", "align": "left", "baseline": "middle", "font": "DejaVu Sans Mono", "fontSize": 8.2},
      "encoding": {
        "x": {"field": "block", "type": "nominal", "scale": {"type": "point", "domain": ["stats","astro"], "range": [10, 367], "padding": 0}, "axis": null},
        "y": {"field": "line", "type": "nominal", "scale": {"type": "point", "domain": ["1","2","3"], "range": [-26, -6], "padding": 0}, "axis": null},
        "text": {"field": "text"},
        "fill": {
          "field": "tone", "type": "nominal",
          "scale": {"domain": ["label","max","min","rain","sun","moon"], "range": ["#000000","#ff0000","#0000dd","#00bfff","#ffff00","#000000"]},
          "legend": null
        }
      }
    }
  ]
}
